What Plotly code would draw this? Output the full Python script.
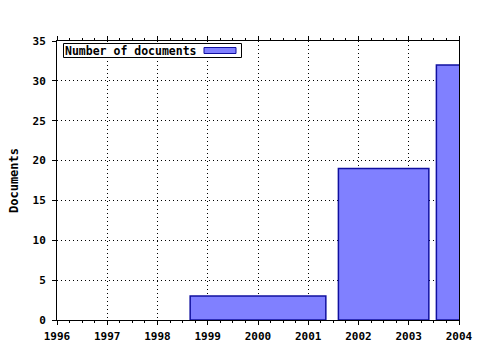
import plotly.graph_objects as go

years = [2000, 2003, 2004]
documents = [3, 19, 32]
series_name = "Number of documents"
y_title = "Documents"
x_ticks = [1996, 1997, 1998, 1999, 2000, 2001, 2002, 2003, 2004]
y_ticks = [0, 5, 10, 15, 20, 25, 30, 35]

FILL = "#8080ff"
EDGE = "#1010a0"
FONT = "DejaVu Sans Mono"

# gnuplot-style boxes: boundaries at midpoints between neighbours, box width 0.9 (relative)
rel = 0.9
n = len(years)
box_x, box_y = [], []
for i, x in enumerate(years):
    left = (years[i - 1] + x) / 2 if i > 0 else x - (years[1] - years[0]) / 2
    right = (x + years[i + 1]) / 2 if i < n - 1 else x + (years[-1] - years[-2]) / 2
    c, w = (left + right) / 2, (right - left) * rel
    x0, x1 = c - w / 2, c + w / 2
    box_x += [x0, x0, x1, x1, x0, None]
    box_y += [0, documents[i], documents[i], 0, 0, None]

W, H = 480, 350
ML, MR, MT, MB = 57, 21, 41, 30
PW, PH = W - ML - MR, H - MT - MB


def px_x(p):
    return (p - ML) / PW


def px_y(p):
    return (H - MB - p) / PH


fig = go.Figure()
fig.add_trace(go.Scatter(
    x=box_x, y=box_y, name=series_name, mode="lines", fill="toself",
    fillcolor=FILL, line=dict(color=EDGE, width=1.5),
    connectgaps=False, showlegend=False, hoverinfo="skip",
))

# gnuplot-style key (text left, swatch right)
fig.add_shape(type="rect", xref="paper", yref="paper",
              x0=px_x(63.5), x1=px_x(241.5), y0=px_y(43.5), y1=px_y(57.5),
              fillcolor="white", line=dict(color="black", width=1), layer="above")
fig.add_shape(type="rect", xref="paper", yref="paper",
              x0=px_x(204), x1=px_x(236), y0=px_y(47.5), y1=px_y(53.5),
              fillcolor=FILL, line=dict(color=EDGE, width=1), layer="above")
fig.add_annotation(text=series_name, xref="paper", yref="paper",
                   x=px_x(64), y=px_y(50.8), xanchor="left", yanchor="middle",
                   showarrow=False, font=dict(family=FONT, size=11.5, weight="bold", color="black"),
                   borderpad=0)

fig.update_layout(
    width=W, height=H,
    margin=dict(l=ML, r=MR, t=MT, b=MB, autoexpand=False),
    paper_bgcolor="white", plot_bgcolor="white",
    font=dict(family=FONT, size=11, color="black", weight="bold"),
    showlegend=False,
    xaxis=dict(
        range=[1996, 2004], tickvals=x_ticks, ticktext=[str(v) for v in x_ticks],
        showgrid=True, gridcolor="black", griddash="1px,3px", gridwidth=1,
        showline=True, linecolor="black", linewidth=1, mirror="ticks",
        ticks="outside", ticklen=4, tickcolor="black", ticklabelstandoff=2,
        minor=dict(dtick=0.25, tick0=1996, ticks="outside", ticklen=2, tickcolor="black", showgrid=False),
        zeroline=False, fixedrange=True, automargin=False,
    ),
    yaxis=dict(
        range=[0, 35], tickvals=y_ticks,
        title=dict(text=y_title, standoff=11, font=dict(family=FONT, size=12, weight="bold")),
        showgrid=True, gridcolor="black", griddash="1px,3px", gridwidth=1,
        showline=True, linecolor="black", linewidth=1, mirror=True,
        ticks="outside", ticklen=4, tickcolor="black", ticklabelstandoff=4,
        zeroline=False, fixedrange=True, automargin=False,
    ),
)

fig.write_html("out.html")
